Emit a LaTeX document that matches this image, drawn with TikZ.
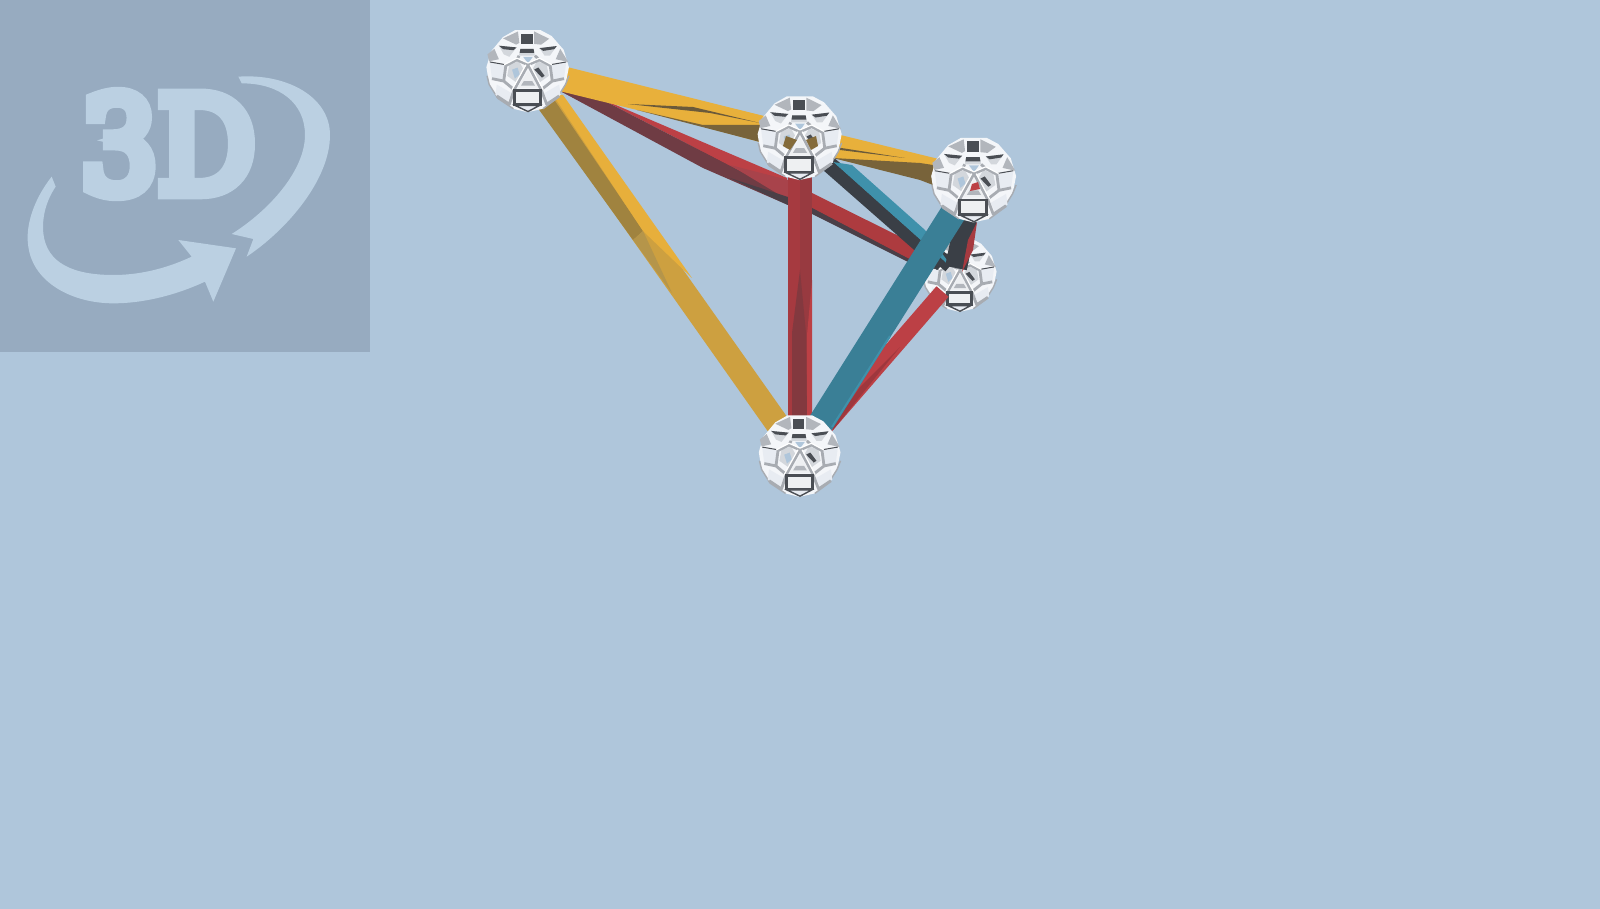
\documentclass[tikz,border=0pt]{standalone}
\usepackage{fontspec}
\newfontface\logofont{DejaVu Serif}[FakeBold=11]
\definecolor{bgc}{HTML}{AFC6DB}
\definecolor{panelc}{HTML}{97ABC0}
\definecolor{logoc}{HTML}{BBD0E2}
\definecolor{goldc}{HTML}{E8B03B}
\definecolor{goldm}{HTML}{CDA040}
\definecolor{goldd}{HTML}{A0833F}
\definecolor{goldt}{HTML}{B5954A}
\definecolor{olive}{HTML}{6B5A3A}
\definecolor{redc}{HTML}{BC4045}
\definecolor{redv}{HTML}{A63A40}
\definecolor{redw}{HTML}{983A40}
\definecolor{reds}{HTML}{83393F}
\definecolor{redm}{HTML}{A8434B}
\definecolor{maroon}{HTML}{6F3C44}
\definecolor{slate}{HTML}{3A3F46}
\definecolor{slateb}{HTML}{4A3F47}
\definecolor{tealc}{HTML}{3F91AB}
\definecolor{tealf}{HTML}{3A7F96}
\definecolor{wire}{HTML}{A8ACB2}
\definecolor{wg}{HTML}{B2B6BC}
\definecolor{wd}{HTML}{4A4E54}
\definecolor{wl}{HTML}{D3D7DC}
\definecolor{ww}{HTML}{E8ECF2}
\definecolor{wo}{HTML}{EEF0F2}
\definecolor{wb}{HTML}{F4F6F9}
\tikzset{
  joint/.style={circle,inner sep=0pt,minimum size=40pt},
  strut/.style={line width=#1*0.5pt},
  win/.style={fill=#1,draw=none},
}
\newcommand{\ballshape}[3]{%
 \begin{scope}[shift={(#1,#2)},scale=#3/3,shift={(-132,-136)}]
  \fill[wb] (95,18)--(168,18)--(200,35)--(235,75)--(250,125)--(240,175)--(215,215)--(175,245)--(130,255)--(90,245)--(45,215)--(20,175)--(12,125)--(25,80)--(60,38)--cycle;
  \draw[wire,line width=.7pt] (14,150)--(20,175)--(45,215)--(90,245) (250,150)--(240,175)--(215,215)--(175,245);
  \fill[win=wg] (60,42)--(103,22)--(107,55)--(98,60)--cycle;
  \fill[win=wg] (150,22)--(193,43)--(170,60)--(150,58)--cycle;
  \fill[win=wd] (113,28)--(145,28)--(145,58)--(113,58)--cycle;
  \fill[win=wl] (110,72)--(148,72)--(152,92)--(106,92)--cycle;
  \fill[win=wd] (110,72)--(148,72)--(150,84)--(108,84)--cycle;
  \fill[win=wl] (48,63)--(99,68)--(78,95)--(62,88)--cycle;
  \fill[win=wd] (48,63)--(99,68)--(90,76)--(60,73)--cycle;
  \fill[win=wl] (165,70)--(215,64)--(195,92)--(180,92)--cycle;
  \fill[win=wd] (165,70)--(215,64)--(208,73)--(176,78)--cycle;
  \fill[win=wg] (15,88)--(35,72)--(48,102)--(20,108)--cycle;
  \fill[win=wg] (225,72)--(248,110)--(212,102)--cycle;
  \fill[win=ww] (22,112)--(68,120)--(62,165)--(28,158)--cycle;
  \fill[win=ww] (196,120)--(242,112)--(236,158)--(202,165)--cycle;
  \draw[wd,line width=.5pt] (22,110)--(68,118) (196,118)--(242,110);
  \fill[win=wl] (78,118)--(106,108)--(124,140)--(100,170)--(72,150)--cycle;
  \fill[win=wl] (140,140)--(158,108)--(186,118)--(192,150)--(164,170)--cycle;
  \fill[win=bgc] (118,95)--(146,95)--(132,114)--cycle;
  \fill[win=bgc] (86,132)--(102,126)--(108,146)--(94,158)--cycle;
  \fill[win=wd] (150,132)--(162,126)--(180,150)--(172,155)--cycle;
  \fill[win=wo] (132,135)--(162,185)--(102,185)--cycle;
  \fill[win=wg] (120,165)--(144,165)--(152,178)--(112,178)--cycle;
  \fill[win=ww] (42,175)--(85,200)--(72,228)--(38,205)--cycle;
  \fill[win=ww] (179,200)--(222,175)--(226,205)--(192,228)--cycle;
  \draw[wire,line width=1.4pt,line join=round]
    (132,118)--(100,104)--(68,120)--(62,165) (132,118)--(165,104)--(196,120)--(202,165)
    (132,118)--(92,190) (132,118)--(170,190)
    (62,165)--(92,190)--(78,232)--(42,208) (202,165)--(170,190)--(186,232)--(222,208)
    (62,165)--(28,158) (202,165)--(236,158) (100,104)--(106,92) (165,104)--(152,92);
  \draw[white,line width=.6pt,line join=round]
    (132,113)--(100,99)--(63,118) (132,113)--(165,99)--(201,118)
    (126,118)--(86,190) (138,118)--(176,190);
  \draw[wd,line width=1.4pt,fill=wo] (92,192) rectangle (168,232);
  \draw[wd,line width=.7pt,fill=ww] (94,235)--(166,235)--(132,253)--cycle;
 \end{scope}}
\begin{document}
\begin{tikzpicture}[x=0.5pt,y=-0.5pt]
\useasboundingbox (0,0) rectangle (1600,909);
\fill[bgc] (0,0) rectangle (1600,909);
\fill[panelc] (0,0) rectangle (370,352);
% logo
\node[text=logoc,inner sep=0pt,anchor=center,font=\logofont\fontsize{66pt}{66pt}\selectfont,xscale=0.92] (logo) at (168,144) {3D};
\begin{scope}[shift={(0,40)},scale=1/3]
 \fill[logoc] (155,410) .. controls (100,480) and (75,560) .. (85,620) .. controls (100,730) and (220,790) .. (340,790) .. controls (440,790) and (540,760) .. (615,725) -- (640,785) -- (708,625) -- (535,600) -- (575,650) .. controls (490,690) and (410,705) .. (340,705) .. controls (220,705) and (140,670) .. (130,580) .. controls (125,530) and (140,480) .. (167,440) -- cycle;
 \fill[logoc] (715,110) .. controls (860,100) and (990,170) .. (990,285) .. controls (990,420) and (860,570) .. (740,650) -- (760,597) -- (695,582) .. controls (810,510) and (915,390) .. (915,285) .. controls (915,190) and (840,130) .. (725,130) -- cycle;
\end{scope}
% joints
\node[joint] (A) at (528,71) {};
\node[joint] (B) at (800,138) {};
\node[joint] (C) at (974,180) {};
\node[joint] (D) at (960,275) {};
\node[joint] (E) at (800,456) {};
\coordinate (Dt) at (950,266);
\coordinate (Dr) at (925,264);
\coordinate (Cd) at (956,268);
\coordinate (De) at (942.5,291.5);
% gold A-E
\draw[goldm,strut=24] (A.center) -- (E.center);
\fill[goldd] (532,100)--(553,98)--(643,231)--(633,240)--cycle;
\fill[goldc!95!goldm] (553,95)--(563,95)--(692,278)--(643,231)--cycle;
\fill[goldt] (633,240)--(643,231)--(672,293)--cycle;
% ball D
\ballshape{960}{275}{0.93}
% red A-D
\draw[maroon,strut=8] (A.center) -- (Dr);
\fill[redc] (597,97)--(787,178)--(788,196)--cycle;
\fill[maroon] (562,92)--(597,97)--(788,196)--(788,205)--(703,168)--cycle;
\fill[redm] (730,165)--(788,180)--(788,200)--cycle;
\fill[slateb] (730,178)--(788,197)--(788,205)--cycle;
\fill[redc!92!black] (812,193)--(925,249)--(915,262)--(812,208)--cycle;
\fill[slateb] (812,208)--(915,262)--(908,262)--(812,214)--cycle;
% gold A-C
\draw[goldc,strut=24] (A.center) -- (C.center);
\fill[goldc] (560,88)--(567,67)--(800,125)--(760,142)--cycle;
\fill[olive] (628,104)--(693,107)--(760,123)--(710,113)--cycle;
\fill[olive!90!goldc] (637,110)--(703,125)--(760,125)--(760,142)--cycle;
\fill[olive!90!goldc] (833,158)--(920,163)--(933,165)--(933,185)--(920,180)--cycle;
\fill[olive] (835,147)--(905,158)--(840,150)--cycle;
% teal B-D
\draw[slate,strut=14] (B.center) -- (Dt);
\fill[tealc] (833,162)--(852,165)--(925,230)--(952,267)--(945,262)--cycle;
\fill[slate] (823,170)--(833,162)--(945,262)--(937,270)--cycle;
% vertical red B-E
\draw[redv,strut=24] (B.center) -- (E.center);
\fill[redw] (800,176)--(812,176)--(812,420)--(800,420)--cycle;
\fill[reds] (800,270)--(806,333)--(807,418)--(792,418)--(792,333)--cycle;
\fill[redc] (812,280)--(812,418)--(807,418)--(807,335)--cycle;
% ball B with what shows through
\ballshape{800}{138}{1.06}
\fill[olive!80!goldc] (786,136)--(797,140)--(790,150)--(783,146)--cycle;
\fill[olive!80!goldc] (806,140)--(816,136)--(818,146)--(811,150)--cycle;
% C-D strut
\draw[slate,strut=22] (C.center) -- (Cd);
\fill[redv] (977,222)--(973,250)--(962,272)--(968,240)--cycle;
% red D-E
\draw[redc,strut=16] (De) -- (E.center);
\fill[redv!95!black] (900,347)--(833,430)--(832,427)--(860,387)--cycle;
% teal C-E
\draw[tealf,strut=26] (C.center) -- (E.center);
\draw[tealc,line width=1pt] (890,336) -- (832,427);
% remaining joints
\ballshape{528}{71}{1.04}
\ballshape{974}{180}{1.07}
\fill[redc] (972,184)--(978,182)--(980,189)--(970,191)--cycle;
\ballshape{800}{456}{1.03}
\end{tikzpicture}
\end{document}
